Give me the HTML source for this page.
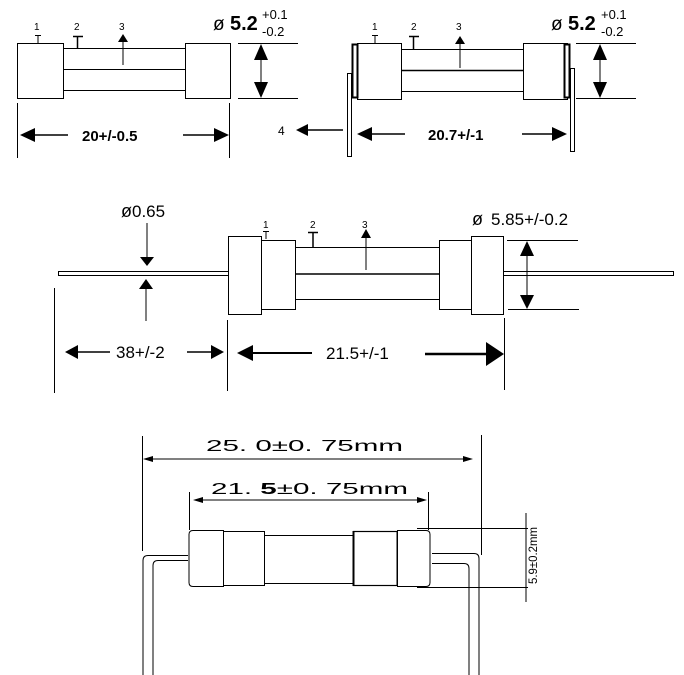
<!DOCTYPE html>
<html><head><meta charset="utf-8"><style>
html,body{margin:0;padding:0;background:#fff;}
svg{display:block;}
text{font-family:"Liberation Sans",sans-serif;fill:#000;}
</style></head><body>
<svg width="684" height="675" viewBox="0 0 684 675" xmlns="http://www.w3.org/2000/svg" stroke="#000" fill="none" stroke-width="1">
<!-- Diagram 1 -->
<rect x="17.5" y="43.5" width="46" height="55" fill="#fff"/>
<rect x="185.5" y="43.5" width="45" height="55" fill="#fff"/>
<line x1="63" y1="48.5" x2="185" y2="48.5"/>
<line x1="63" y1="69.5" x2="185" y2="69.5"/>
<line x1="63" y1="90.5" x2="185" y2="90.5"/>
<text x="34" y="30" font-size="10" stroke="none">1</text>
<path d="M35 35.5h6M38 35v8"/>
<text x="74" y="30" font-size="10" stroke="none">2</text>
<path d="M73 36.5h10M77.5 36v12" stroke-width="1.5"/>
<text x="119" y="30" font-size="10" stroke="none">3</text>
<line x1="123" y1="65" x2="123" y2="40"/>
<polygon points="118,42 128,42 123,34" fill="#000" stroke="none"/>
<line x1="238" y1="43.5" x2="298" y2="43.5"/>
<line x1="238" y1="98.5" x2="298" y2="98.5"/>
<line x1="261" y1="55" x2="261" y2="88"/>
<polygon points="254,60 268,60 261,44" fill="#000" stroke="none"/>
<polygon points="254,82 268,82 261,98" fill="#000" stroke="none"/>
<text x="213" y="30" font-size="19" stroke="none" fill="#333">ø</text>
<text x="230" y="30" font-size="20" font-weight="bold" stroke="none">5.2</text>
<text x="262" y="19" font-size="13" stroke="none">+0.1</text>
<text x="262" y="36" font-size="13" stroke="none">-0.2</text>
<line x1="17.5" y1="103" x2="17.5" y2="158"/>
<line x1="229.5" y1="103" x2="229.5" y2="158"/>
<line x1="30" y1="135" x2="68" y2="135" stroke-width="1.5"/>
<polygon points="20,135 35,128 35,142" fill="#000" stroke="none"/>
<text x="82" y="141" font-size="15" font-weight="bold" stroke="none">20+/-0.5</text>
<line x1="183" y1="135" x2="215" y2="135" stroke-width="1.5"/>
<polygon points="229,135 214,128 214,142" fill="#000" stroke="none"/>
<text x="278" y="135" font-size="12" stroke="none" fill="#333">4</text>
<line x1="305" y1="130" x2="343" y2="130" stroke-width="1.5"/>
<polygon points="296,130 308,124 308,136" fill="#000" stroke="none"/>

<!-- Diagram 2 -->
<rect x="347.5" y="73.5" width="4" height="83" fill="#fff"/>
<rect x="570.5" y="68.5" width="4" height="83" fill="#fff"/>
<rect x="357.5" y="43.5" width="44" height="56" fill="#fff"/>
<rect x="523.5" y="43.5" width="44" height="56" fill="#fff"/>
<rect x="352.5" y="44.5" width="5" height="53" fill="#fff" stroke-width="2"/>
<rect x="564.5" y="44.5" width="5" height="53" fill="#fff" stroke-width="2"/>
<line x1="401" y1="49.5" x2="523" y2="49.5"/>
<line x1="401" y1="70.5" x2="523" y2="70.5" stroke-width="1.5"/>
<line x1="401" y1="91.5" x2="523" y2="91.5"/>
<text x="372" y="30" font-size="10" stroke="none">1</text>
<path d="M372 35.5h6M375 35v8"/>
<text x="411" y="30" font-size="10" stroke="none">2</text>
<path d="M409 36.5h10M413.5 36v13" stroke-width="1.5"/>
<text x="456" y="30" font-size="10" stroke="none">3</text>
<line x1="460" y1="68" x2="460" y2="42"/>
<polygon points="455,44 465,44 460,36" fill="#000" stroke="none"/>
<line x1="576" y1="43.5" x2="636" y2="43.5"/>
<line x1="576" y1="98.5" x2="636" y2="98.5"/>
<line x1="600" y1="55" x2="600" y2="88"/>
<polygon points="593,60 607,60 600,44" fill="#000" stroke="none"/>
<polygon points="593,82 607,82 600,98" fill="#000" stroke="none"/>
<text x="551" y="30" font-size="19" stroke="none" fill="#333">ø</text>
<text x="568" y="30" font-size="20" font-weight="bold" stroke="none">5.2</text>
<text x="601" y="19" font-size="13" stroke="none">+0.1</text>
<text x="601" y="36" font-size="13" stroke="none">-0.2</text>
<line x1="368" y1="134" x2="405" y2="134" stroke-width="1.5"/>
<polygon points="357,134 372,127 372,141" fill="#000" stroke="none"/>
<text x="428" y="140" font-size="15" font-weight="bold" stroke="none">20.7+/-1</text>
<line x1="522" y1="134" x2="553" y2="134" stroke-width="1.5"/>
<polygon points="567,134 552,127 552,141" fill="#000" stroke="none"/>

<!-- Diagram 3 -->
<rect x="58.5" y="271.5" width="170" height="4" fill="#fff"/>
<rect x="503.5" y="271.5" width="170" height="4" fill="#fff"/>
<rect x="228.5" y="236.5" width="33" height="78" fill="#fff"/>
<rect x="261.5" y="240.5" width="34" height="69" fill="#fff"/>
<rect x="439.5" y="240.5" width="32" height="69" fill="#fff"/>
<rect x="471.5" y="236.5" width="32" height="78" fill="#fff"/>
<line x1="296" y1="247.5" x2="439" y2="247.5"/>
<line x1="296" y1="274" x2="439" y2="274" stroke-width="1.5"/>
<line x1="296" y1="299.5" x2="439" y2="299.5"/>
<text x="263" y="228" font-size="10" stroke="none">1</text>
<path d="M263 231.5h6M266 231v8"/>
<text x="310" y="228" font-size="10" stroke="none">2</text>
<path d="M308 232.5h10M313 232v15" stroke-width="1.5"/>
<text x="362" y="228" font-size="10" stroke="none">3</text>
<line x1="366" y1="270" x2="366" y2="236"/>
<polygon points="361,238 371,238 366,229" fill="#000" stroke="none"/>
<text x="121" y="217" font-size="18" stroke="none" fill="#333">ø</text>
<text x="132" y="217" font-size="17" stroke="none">0.65</text>
<line x1="147" y1="223" x2="147" y2="258"/>
<polygon points="140,257 154,257 147,266" fill="#000" stroke="none"/>
<line x1="146" y1="321" x2="146" y2="287"/>
<polygon points="139,289 153,289 146,279" fill="#000" stroke="none"/>
<text x="472" y="225" font-size="18" stroke="none" fill="#333">ø</text>
<text x="491" y="225" font-size="17" stroke="none">5.85+/-0.2</text>
<line x1="507" y1="240.5" x2="578" y2="240.5"/>
<line x1="508" y1="309.5" x2="579" y2="309.5"/>
<line x1="527" y1="250" x2="527" y2="300"/>
<polygon points="520,256 534,256 527,241" fill="#000" stroke="none"/>
<polygon points="520,295 534,295 527,309" fill="#000" stroke="none"/>
<line x1="54.5" y1="288" x2="54.5" y2="393"/>
<line x1="227.5" y1="320" x2="227.5" y2="391"/>
<line x1="504.5" y1="318" x2="504.5" y2="390"/>
<line x1="72" y1="352" x2="110" y2="352" stroke-width="1.5"/>
<polygon points="65,352 78,345 78,359" fill="#000" stroke="none"/>
<text x="116" y="358" font-size="17" stroke="none">38+/-2</text>
<line x1="187" y1="352" x2="214" y2="352" stroke-width="1.5"/>
<polygon points="224,352 211,345 211,359" fill="#000" stroke="none"/>
<line x1="250" y1="353" x2="312" y2="353" stroke-width="2"/>
<polygon points="237,353 253,345 253,361" fill="#000" stroke="none"/>
<text x="326" y="359" font-size="17" stroke="none">21.5+/-1</text>
<line x1="425" y1="354" x2="490" y2="354" stroke-width="2.5"/>
<polygon points="504,354 486,342 486,366" fill="#000" stroke="none"/>

<!-- Diagram 4 -->
<line x1="142.5" y1="436" x2="142.5" y2="551"/>
<line x1="481.5" y1="435" x2="481.5" y2="555"/>
<line x1="189.5" y1="492" x2="189.5" y2="530"/>
<line x1="428.5" y1="492" x2="428.5" y2="530"/>
<path d="M188 555.5H148q-5 0-5 5V675"/>
<path d="M188 560.5H158q-5 0-5 5V675"/>
<path d="M432 553.5H474q5 0 5 5V675"/>
<path d="M432 563.5H464q5 0 5 5V675"/>
<path d="M193 530.5H223.5V586.5H193q-4 0-4-4V534.5q0-4 4-4Z" fill="#fff"/>
<rect x="223.5" y="531.5" width="41" height="54" fill="#fff"/>
<rect x="264.5" y="535.5" width="89" height="48" fill="#fff"/>
<rect x="353.5" y="531.5" width="44" height="54" fill="#fff" stroke-width="1.2"/>
<line x1="353.5" y1="531" x2="353.5" y2="586" stroke-width="2"/>
<line x1="397.5" y1="531" x2="397.5" y2="586" stroke-width="2"/>
<path d="M397.5 530.5H426q4 0 4 4V582.5q0 4-4 4H397.5Z" fill="#fff"/>
<line x1="150" y1="459" x2="466" y2="459"/>
<polygon points="143,459 153,456 153,462" fill="#000" stroke="none"/>
<polygon points="473,459 463,456 463,462" fill="#000" stroke="none"/>
<text x="206" y="451" font-size="16" font-family="Liberation Mono,monospace" stroke="none" textLength="197" lengthAdjust="spacingAndGlyphs">25. 0±0. 75mm</text>
<line x1="200" y1="500" x2="420" y2="500"/>
<polygon points="193,500 203,497 203,503" fill="#000" stroke="none"/>
<polygon points="427,500 417,497 417,503" fill="#000" stroke="none"/>
<text x="211" y="494" font-size="16" font-family="Liberation Mono,monospace" stroke="none" textLength="197" lengthAdjust="spacingAndGlyphs">21. <tspan font-weight="bold" font-family="Liberation Sans,sans-serif">5</tspan>±0. 75mm</text>
<line x1="417" y1="528.5" x2="528" y2="528.5"/>
<line x1="417" y1="587.5" x2="528" y2="587.5"/>
<line x1="526" y1="513" x2="526" y2="602"/>
<text transform="translate(537,584) rotate(-90)" font-size="12" stroke="none" textLength="57" lengthAdjust="spacingAndGlyphs">5.9±0.2mm</text>
</svg>
</body></html>
